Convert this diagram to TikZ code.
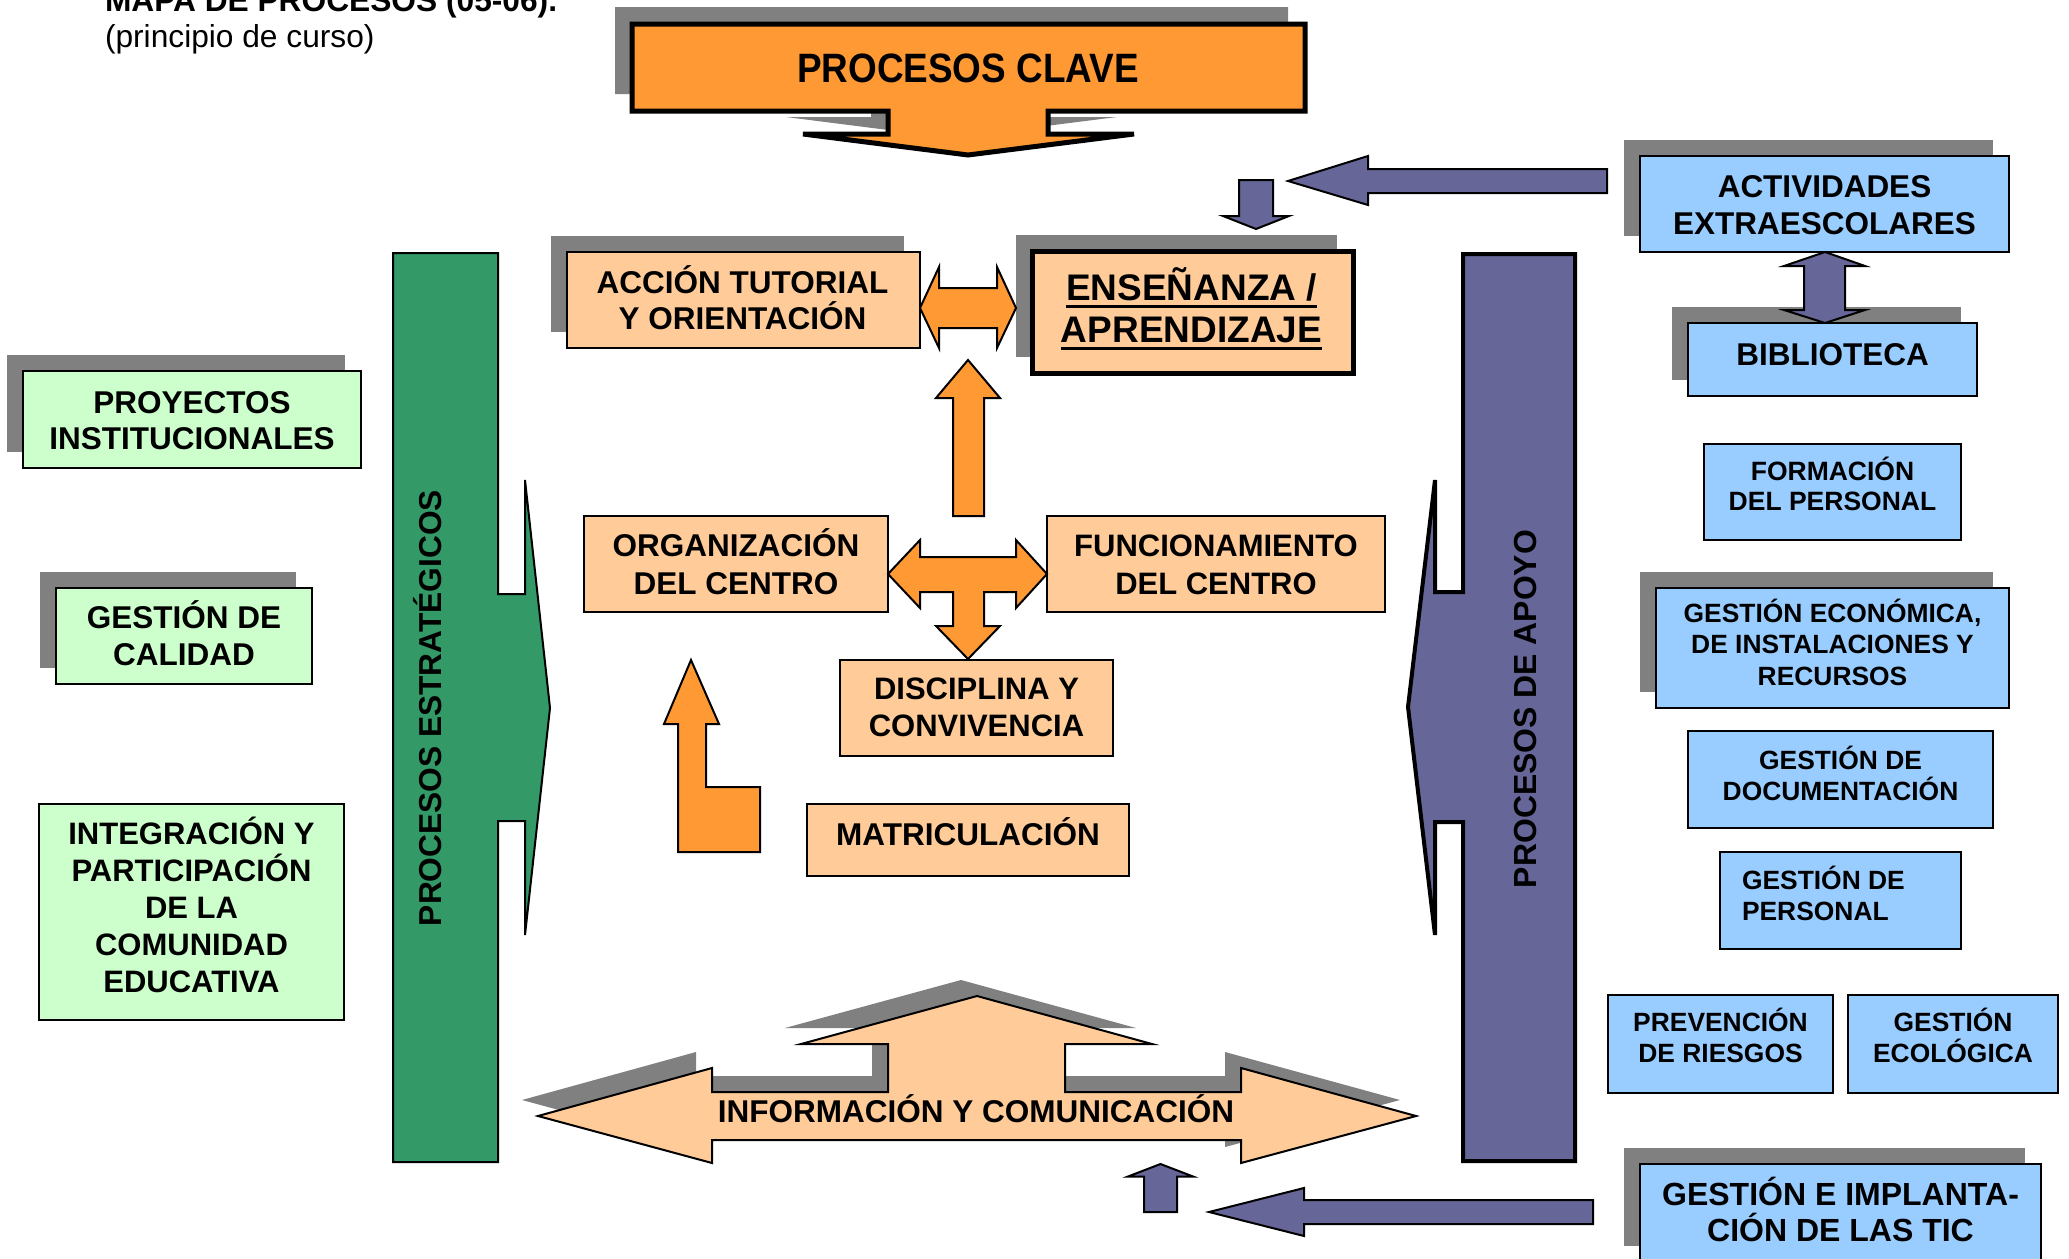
\documentclass[tikz,border=0pt]{standalone}
\usepackage{fontspec}
\setmainfont{Liberation Sans}
\usepackage{graphicx}
\usetikzlibrary{shadows}

\definecolor{orangeA}{HTML}{FF9933}
\definecolor{peach}{HTML}{FFCC99}
\definecolor{greenA}{HTML}{339966}
\definecolor{mint}{HTML}{CCFFCC}
\definecolor{violetA}{HTML}{666699}
\definecolor{sky}{HTML}{99CCFF}
\definecolor{shgray}{HTML}{808080}

% multi-line text blocks: size, leading, lines separated by \cr
\newcommand\clines[3]{\vtop{\fontsize{#1}{#2}\selectfont\lineskiplimit=-1000pt\relax
  \halign{\hfil##\hfil\cr#3\crcr}}}
\newcommand\llines[3]{\vtop{\fontsize{#1}{#2}\selectfont\lineskiplimit=-1000pt\relax
  \halign{##\hfil\cr#3\crcr}}}
% heavy underline
\newcommand\ulbar[1]{\setbox0=\hbox{#1}\rlap{\rule[-8pt]{\wd0}{3pt}}\box0}
% rectangle node from corner coordinates
\newcommand\panelnode[6]{\node[#2, minimum width={#5-#3}, minimum height={#6-#4}]
  (#1) at ({(#3+#5)/2},{(#4+#6)/2}) {};}
% outline of the key-process banner
\newcommand\clave[1]{\path[#1] (632,24) -- (1305,24) -- (1305,111) -- (1048,111)
  -- (1048,134) -- (1134,134) -- (968,155) -- (803,134) -- (888,134) -- (888,111)
  -- (632,111) -- cycle;}
% outline of the information/communication arrow
\newcommand\infoshape[1]{\path[#1] (538,1116) -- (712,1068) -- (712,1092) -- (888,1092)
  -- (888,1044) -- (801,1044) -- (977,996) -- (1152,1044) -- (1065,1044) -- (1065,1092)
  -- (1241,1092) -- (1241,1068) -- (1416,1116) -- (1241,1163) -- (1241,1140)
  -- (712,1140) -- (712,1163) -- cycle;}

\tikzset{
  every node/.style={inner sep=0pt, outer sep=0pt},
  panel/.style={rectangle, draw=black, line width=2pt},
  peachbox/.style={panel, fill=peach},
  mintbox/.style={panel, fill=mint},
  skybox/.style={panel, fill=sky},
  casts/.style={general shadow={fill=shgray, shadow xshift=-16pt, shadow yshift=16pt}},
  txt/.style={anchor=base, font=\bfseries},
  blockarrow/.style={draw=black, line width=2pt, line join=miter},
}

\begin{document}
\begin{tikzpicture}[x=1pt,y=-1pt]
\fill[white] (0,0) rectangle (2069,1258);
\useasboundingbox (0,0) rectangle (2069,1258);

% heading
\node[anchor=base west, font=\bfseries\fontsize{31.7}{36}\selectfont] (title) at (105,11) {MAPA DE PROCESOS (05-06).};
\node[anchor=base west, font=\fontsize{31.7}{36}\selectfont] (subtitle) at (105,47) {(principio de curso)};

% key processes banner
\clave{fill=shgray, shift={(-17,-17)}}
\clave{fill=orangeA, draw=black, line width=5pt, line join=miter}
\node[txt] (clave-t) at (968,82) {\scalebox{0.9}[1]{\fontsize{41}{45}\selectfont PROCESOS CLAVE}};

% strategic processes bar
\filldraw[fill=greenA, draw=black, line width=2pt] (393,253) -- (498,253) -- (498,594)
  -- (525,594) -- (525,480) -- (550,708) -- (525,935) -- (525,821) -- (498,821)
  -- (498,1162) -- (393,1162) -- cycle;
\node[txt, rotate=90] (est-t) at (441,708) {\fontsize{31.7}{36}\selectfont PROCESOS ESTRATÉGICOS};

% support processes bar
\filldraw[fill=violetA, draw=black, line width=4pt] (1463,254) -- (1575,254) -- (1575,1161)
  -- (1463,1161) -- (1463,822) -- (1435,822) -- (1435,935) -- (1408,707) -- (1435,480)
  -- (1435,592) -- (1463,592) -- cycle;
\node[txt, rotate=90] (apo-t) at (1536,709) {\fontsize{31.9}{36}\selectfont PROCESOS DE APOYO};

% strategic boxes
\panelnode{pro}{mintbox, casts}{23}{371}{361}{468}
\node[txt] (pro-t) at (192,413.7) {\clines{31.5}{35.7}{PROYECTOS\cr INSTITUCIONALES}};
\panelnode{cal}{mintbox, casts}{56}{588}{312}{684}
\node[txt] (cal-t) at (184,628) {\clines{31.5}{37}{GESTIÓN DE\cr CALIDAD}};
\panelnode{int}{mintbox}{39}{804}{344}{1020}
\node[txt] (int-t) at (191.5,844.5) {\clines{31}{36.9}{INTEGRACIÓN Y\cr PARTICIPACIÓN\cr DE LA\cr COMUNIDAD\cr EDUCATIVA}};

% key process boxes
\panelnode{acc}{peachbox, casts}{567}{252}{920}{348}
\node[txt] (acc-t) at (742.5,293) {\clines{31.5}{36}{ACCIÓN TUTORIAL\cr Y ORIENTACIÓN}};
\panelnode{ens}{peachbox, casts, line width=5pt}{1032}{251}{1353}{373}
\node[txt] (ens-t) at (1191.5,300) {\clines{37}{42}{\ulbar{ENSEÑANZA /}\cr\ulbar{APRENDIZAJE}}};
\panelnode{org}{peachbox}{584}{516}{888}{612}
\node[txt] (org-t) at (736,556) {\clines{31.5}{38}{ORGANIZACIÓN\cr DEL CENTRO}};
\panelnode{fun}{peachbox}{1047}{516}{1385}{612}
\node[txt] (fun-t) at (1216,556) {\clines{31}{38}{FUNCIONAMIENTO\cr DEL CENTRO}};
\panelnode{dis}{peachbox}{840}{660}{1113}{756}
\node[txt] (dis-t) at (976.5,699) {\clines{31}{37}{DISCIPLINA Y\cr CONVIVENCIA}};
\panelnode{mat}{peachbox}{807}{804}{1129}{876}
\node[txt] (mat-t) at (968,845) {\clines{31.5}{36}{MATRICULACIÓN}};

% orange block arrows
\filldraw[blockarrow, fill=orangeA] (920,308) -- (939,267) -- (939,288) -- (997,288)
  -- (997,267) -- (1016,308) -- (997,348) -- (997,328) -- (939,328) -- (939,348) -- cycle;
\filldraw[blockarrow, fill=orangeA] (968,360) -- (1000,398) -- (984,398) -- (984,516)
  -- (953,516) -- (953,398) -- (936,398) -- cycle;
\filldraw[blockarrow, fill=orangeA] (888,574) -- (920,540) -- (920,557) -- (1016,557)
  -- (1016,540) -- (1047,574) -- (1016,608) -- (1016,592) -- (984,592) -- (984,626)
  -- (1000,626) -- (968,659) -- (936,626) -- (953,626) -- (953,592) -- (920,592)
  -- (920,608) -- cycle;
\filldraw[blockarrow, fill=orangeA] (691,660) -- (719,724) -- (706,724) -- (706,787)
  -- (760,787) -- (760,852) -- (678,852) -- (678,724) -- (664,724) -- cycle;

% information and communication
\infoshape{fill=shgray, shift={(-16,-16)}}
\infoshape{fill=peach, draw=black, line width=2pt, line join=miter}
\node[txt] (info-t) at (976,1122) {\fontsize{31.5}{36}\selectfont INFORMACIÓN Y COMUNICACIÓN};

% support boxes
\panelnode{act}{skybox, casts}{1640}{156}{2009}{252}
\node[txt] (act-t) at (1824.5,197.5) {\clines{31.5}{36.5}{ACTIVIDADES\cr EXTRAESCOLARES}};
\panelnode{bib}{skybox, casts}{1688}{323}{1977}{396}
\node[txt] (bib-t) at (1832.5,365) {\clines{31.5}{36}{BIBLIOTECA}};
\panelnode{for}{skybox}{1704}{444}{1961}{540}
\node[txt] (for-t) at (1832.5,480) {\clines{26.5}{30}{FORMACIÓN\cr DEL PERSONAL}};
\panelnode{eco}{skybox, casts}{1656}{588}{2009}{708}
\node[txt] (eco-t) at (1832.5,622) {\clines{26.4}{31.5}{GESTIÓN ECONÓMICA,\cr DE INSTALACIONES Y\cr RECURSOS}};
\panelnode{doc}{skybox}{1688}{731}{1993}{828}
\node[txt] (doc-t) at (1840.5,769) {\clines{26.4}{31}{GESTIÓN DE\cr DOCUMENTACIÓN}};
\panelnode{per}{skybox}{1720}{852}{1961}{949}
\node[txt, anchor=base west] (per-t) at (1742,889.5) {\llines{26.4}{30.5}{GESTIÓN DE\cr PERSONAL}};
\panelnode{pre}{skybox}{1608}{995}{1833}{1093}
\node[txt] (pre-t) at (1720.5,1031) {\clines{26.4}{31}{PREVENCIÓN\cr DE RIESGOS}};
\panelnode{ecol}{skybox}{1848}{995}{2058}{1093}
\node[txt] (ecol-t) at (1953,1031) {\clines{26.4}{31}{GESTIÓN\cr ECOLÓGICA}};
\panelnode{tic}{skybox, casts}{1640}{1164}{2041}{1262}
\node[txt] (tic-t) at (1840.5,1205.6) {\clines{32}{36}{GESTIÓN E IMPLANTA-\cr CIÓN DE LAS TIC}};

% violet block arrows
\filldraw[blockarrow, fill=violetA] (1825,252) -- (1865,266) -- (1845,266) -- (1845,310)
  -- (1865,310) -- (1825,323) -- (1784,310) -- (1804,310) -- (1804,266) -- (1784,266) -- cycle;
\filldraw[blockarrow, fill=violetA] (1288,181) -- (1368,156) -- (1368,169) -- (1607,169)
  -- (1607,193) -- (1368,193) -- (1368,205) -- cycle;
\filldraw[blockarrow, fill=violetA] (1239,180) -- (1273,180) -- (1273,216) -- (1289,216)
  -- (1256,229) -- (1223,216) -- (1239,216) -- cycle;
\filldraw[blockarrow, fill=violetA] (1209,1212) -- (1304,1188) -- (1304,1200) -- (1593,1200)
  -- (1593,1224) -- (1304,1224) -- (1304,1236) -- cycle;
\filldraw[blockarrow, fill=violetA] (1160.5,1164) -- (1193,1176.5) -- (1177,1176.5)
  -- (1177,1212) -- (1144,1212) -- (1144,1176.5) -- (1128,1176.5) -- cycle;
\end{tikzpicture}
\end{document}
